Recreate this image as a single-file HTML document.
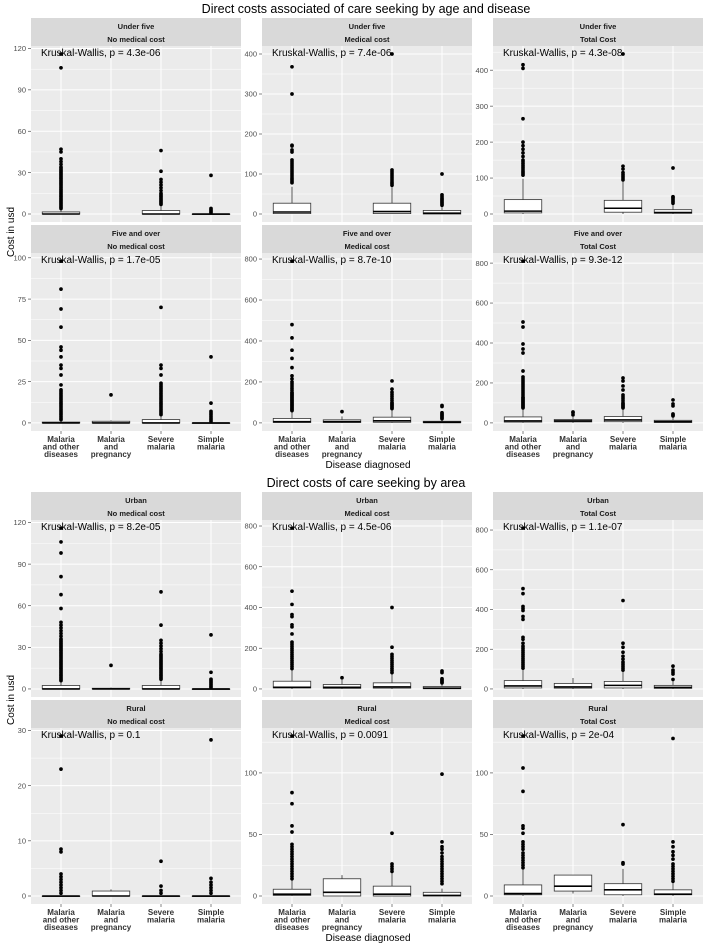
<!DOCTYPE html>
<html><head><meta charset="utf-8"><style>
html,body{margin:0;padding:0;background:#fff;}
svg{display:block;font-family:"Liberation Sans",Arial,sans-serif;}
</style></head>
<body>
<svg id="chart" width="704" height="945" viewBox="0 0 704 945" xmlns="http://www.w3.org/2000/svg">
<text x="366" y="13" font-size="12.5" text-anchor="middle" fill="#000">Direct costs associated of care seeking by age and disease</text>
<text x="366" y="487" font-size="12.5" text-anchor="middle" fill="#000">Direct costs of care seeking by area</text>
<text transform="translate(14,232) rotate(-90)" font-size="10" text-anchor="middle">Cost in usd</text>
<text transform="translate(14,700) rotate(-90)" font-size="10" text-anchor="middle">Cost in usd</text>
<text x="368" y="468" font-size="10" text-anchor="middle">Disease diagnosed</text>
<text x="368" y="941" font-size="10" text-anchor="middle">Disease diagnosed</text>
<g id="panels"></g>
</svg>
<script>
const categories = [["Malaria","and other","diseases"],["Malaria","and","pregnancy"],["Severe","malaria"],["Simple","malaria"]];
const stripTop = ["Under five","Under five","Under five","Five and over","Five and over","Five and over","Urban","Urban","Urban","Rural","Rural","Rural"];
const stripBottom = ["No medical cost","Medical cost","Total Cost","No medical cost","Medical cost","Total Cost","No medical cost","Medical cost","Total Cost","No medical cost","Medical cost","Total Cost"];
const pLabels = ["Kruskal-Wallis, p = 4.3e-06","Kruskal-Wallis, p = 7.4e-06","Kruskal-Wallis, p = 4.3e-08","Kruskal-Wallis, p = 1.7e-05","Kruskal-Wallis, p = 8.7e-10","Kruskal-Wallis, p = 9.3e-12","Kruskal-Wallis, p = 8.2e-05","Kruskal-Wallis, p = 4.5e-06","Kruskal-Wallis, p = 1.1e-07","Kruskal-Wallis, p = 0.1","Kruskal-Wallis, p = 0.0091","Kruskal-Wallis, p = 2e-04"];
const dataMin = [0,0,0,0,0,0,0,0,0,0,0,0];
const dataMax = [116,400,445,98,790,810,116,790,810,29,130,130];
const tickLabels = [
 [0,30,60,90,120],[0,100,200,300,400],[0,100,200,300,400],
 [0,25,50,75,100],[0,200,400,600,800],[0,200,400,600,800],
 [0,30,60,90,120],[0,200,400,600,800],[0,200,400,600,800],
 [0,10,20,30],[0,50,100],[0,50,100]];
// box stats per panel per category: [lower whisker, q1, median, q3, upper whisker]
const boxStats = [
 [[0,0,0,1.5,3],null,[0,0,0,2.5,6],[0,0,0,0,0]],
 [[0,1,5,27,68],null,[0,1,6,27,68],[0,0,2,9,18]],
 [[0,3,8,40,98],null,[0,5,16,38,90],[0,2,4,12,28]],
 [[0,0,0,0.5,1],[0,0,0,1,1.5],[0,0,0,2,4],[0,0,0,0,0]],
 [[0,2,6,22,58],[0,2,6,15,32],[0,3,10,28,68],[0,1,3,8,15]],
 [[0,4,10,30,70],[0,5,10,17,30],[0,6,15,32,72],[0,2,6,13,30]],
 [[0,0,0,2.5,5],[0,0,0,0.5,1],[0,0,0,2.5,6],[0,0,0,0,0]],
 [[0,5,8,38,95],[0,3,8,22,45],[0,4,10,30,75],[0,1,4,12,25]],
 [[0,5,15,42,100],[0,4,10,28,55],[0,5,18,38,90],[0,3,8,18,40]],
 [[0,0,0,0,0],[0,0,0,0.9,1.2],[0,0,0,0,0],[0,0,0,0,0]],
 [[0,0.5,1.5,5.5,13],[0,0,3,14,17],[0,0,1.5,8,19],[0,0,0.5,3,6]],
 [[0,1,2,9,22],[2,4,8,17,17],[0,1,5,10,22],[0,1,1.5,5,11]]];
const outliers = [
 [[4,5,6,7,8,9,10,11,12,13,14,15,16,17,18,19,20,21,22,23,24,25,26,27,28,29,30,31,32,33,34,36,38,40,45,47,106,116],[],[7,8,9,10,11,12,13,14,15,17,19,21,23,25,31,46],[1,2,3,4,28]],
 [[78,82,86,90,95,100,105,110,115,120,125,130,135,155,160,170,172,300,368],[],[72,76,80,85,90,95,100,105,110,400],[22,25,28,31,34,37,40,44,48,100]],
 [[108,112,116,120,125,130,135,140,145,150,160,170,180,190,200,265,405,415],[],[95,100,105,110,115,125,133,445],[30,34,38,42,46,48,128]],
 [[2,3,4,5,6,7,8,9,10,11,12,13,14,15,16,17,18,19,20,23,29,33,35,40,44,46,58,69,81,98],[17],[5,6,7,8,9,10,11,12,13,14,15,16,17,18,19,20,21,22,23,24,29,33,35,70],[1,2,3,4,5,6,7,12,40]],
 [[60,65,70,75,80,85,90,95,100,105,110,115,120,125,130,135,140,145,150,160,170,180,190,200,215,230,270,315,355,415,480,790],[55],[70,75,80,85,90,95,100,110,120,130,140,150,165,205],[20,25,30,35,40,45,50,80,85]],
 [[75,80,85,90,95,100,105,110,115,120,125,130,140,150,160,170,180,190,200,210,220,230,260,350,370,395,480,505,810],[40,50,55],[75,80,85,90,95,100,110,120,130,140,165,185,210,225],[35,40,45,85,95,115]],
 [[6,7,8,9,10,11,12,13,14,15,16,17,18,19,20,21,22,23,24,25,26,27,28,29,30,31,32,33,34,35,36,38,40,42,44,46,48,58,68,81,98,106,116],[17],[7,8,9,10,11,12,13,14,15,16,17,18,19,20,21,22,23,24,25,27,29,31,33,35,46,70],[1,2,3,4,5,6,7,12,39]],
 [[100,110,120,130,140,150,160,170,180,190,200,210,220,230,270,305,315,355,365,415,480,790],[55],[80,90,100,110,120,130,140,150,160,170,205,400],[30,35,40,45,50,80,88]],
 [[105,115,125,135,145,155,165,175,185,195,205,215,230,250,260,350,365,395,405,415,480,505,810],[],[95,105,115,125,135,150,165,185,210,230,445],[48,75,85,95,115]],
 [[0.5,1,1.5,2,2.5,3,3.5,4,8,8.5,23,29],[],[0.5,1,1.8,6.3],[0.5,1,1.5,2,2.5,3.2,28.3]],
 [[14,16,18,20,22,24,26,28,30,32,34,36,38,40,42,52,57,75,84,130],[],[20,22,24,26,51],[10,12,14,16,18,20,22,24,26,28,30,32,35,38,40,44,99]],
 [[23,25,27,29,31,33,35,38,40,42,44,51,55,57,85,104,130],[],[26,27,58],[12,14,16,18,20,22,24,26,30,33,36,40,44,128]]];

const NS = "http://www.w3.org/2000/svg";
const root = document.getElementById("panels");
const colX = [31, 262, 493];
const panelW = 210;
const stripTops = [18, 225, 492, 700];
const plotTops = [46, 253, 520, 728];
const plotBots = [222, 431, 697, 904];
function mk(tag, attrs, parent){const e=document.createElementNS(NS,tag);for(const k in attrs)e.setAttribute(k,attrs[k]);(parent||root).appendChild(e);return e;}

for(let p=0;p<12;p++){
  const row=Math.floor(p/3), col=p%3;
  const x0=colX[col], top=plotTops[row], bot=plotBots[row];
  const range=dataMax[p]-dataMin[p];
  const lo=dataMin[p]-0.05*range, hi=dataMax[p]+0.05*range;
  const yScale=v=>bot-(v-lo)/(hi-lo)*(bot-top);
  const step=panelW/4.2;
  const xScale=i=>x0+(i+0.6)*step;
  const g=mk("g",{});
  
  
  const strip=mk("rect",{x:x0,y:stripTops[row],width:panelW,height:plotTops[row]-stripTops[row],fill:"#D9D9D9"},g);
  
  
  const s1=mk("text",{x:x0+panelW/2,y:stripTops[row]+11,"font-size":"7.5","font-weight":"bold","text-anchor":"middle",fill:"#1A1A1A"},g);
  s1.textContent=stripTop[p];
  
  
  const s2=mk("text",{x:x0+panelW/2,y:stripTops[row]+24,"font-size":"7.5","font-weight":"bold","text-anchor":"middle",fill:"#1A1A1A"},g);
  s2.textContent=stripBottom[p];
  
  
  const bg=mk("rect",{x:x0,y:top,width:panelW,height:bot-top,fill:"#EBEBEB"},g);
  
  
  const ticks=tickLabels[p];
  const tstep=ticks[1]-ticks[0];
  for(let k=0;k<=ticks.length;k++){
    const mv=ticks[0]+(k+0.5)*tstep;
    const my=yScale(mv);
    if(my>top&&my<bot){const ml=mk("line",{x1:x0,x2:x0+panelW,y1:my,y2:my,stroke:"#fff","stroke-width":"0.5"},g);
      }
  }
  ticks.forEach(t=>{
    const y=yScale(t);
    const gl=mk("line",{x1:x0,x2:x0+panelW,y1:y,y2:y,stroke:"#fff","stroke-width":"1"},g);
    
    
    const tk=mk("line",{x1:x0-3,x2:x0,y1:y,y2:y,stroke:"#333","stroke-width":"0.6"},g);
    
    
    const tl=mk("text",{x:x0-5,y:y+2.7,"font-size":"7.5","text-anchor":"end",fill:"#4D4D4D"},g);
    tl.textContent=String(t);
    
    
  });
  for(let i=0;i<4;i++){
    const cx=xScale(i);
    const vl=mk("line",{x1:cx,x2:cx,y1:top,y2:bot,stroke:"#fff","stroke-width":"1"},g);
    
    
    if(row===1||row===3){
      const xt=mk("line",{x1:cx,x2:cx,y1:bot,y2:bot+3,stroke:"#333","stroke-width":"0.6"},g);
      
      
      categories[i].forEach((ln,j)=>{
        const t=mk("text",{x:cx,y:bot+11+j*7.5,"font-size":"8","font-weight":"bold","text-anchor":"middle",fill:"#333"},g);
        t.textContent=ln;
        
        
      });
    }
  }
  for(let i=0;i<4;i++){
    const b=boxStats[p][i];
    if(!b) continue;
    const cx=xScale(i), bw=step*0.75;
    const bgp=mk("g",{},g);
    
    
    mk("line",{x1:cx,x2:cx,y1:yScale(b[3]),y2:yScale(b[4]),stroke:"#333","stroke-width":"0.8"},bgp);
    mk("line",{x1:cx,x2:cx,y1:yScale(b[0]),y2:yScale(b[1]),stroke:"#333","stroke-width":"0.8"},bgp);
    const h=Math.max(0.6,yScale(b[1])-yScale(b[3]));
    mk("rect",{x:cx-bw/2,y:yScale(b[3]),width:bw,height:h,fill:"#fff",stroke:"#333","stroke-width":"0.8"},bgp);
    mk("line",{x1:cx-bw/2,x2:cx+bw/2,y1:yScale(b[2]),y2:yScale(b[2]),stroke:"#000","stroke-width":"1.6"},bgp);
    outliers[p][i].forEach(v=>{
      const c=mk("circle",{cx:cx,cy:yScale(v),r:"1.85",fill:"#000"},bgp);
      
      
    });
  }
  const kw=mk("text",{x:x0+10,y:top+10,"font-size":"10","fill":"#000"},g);
  kw.textContent=pLabels[p];
  
  
}
</script>
</body></html>
